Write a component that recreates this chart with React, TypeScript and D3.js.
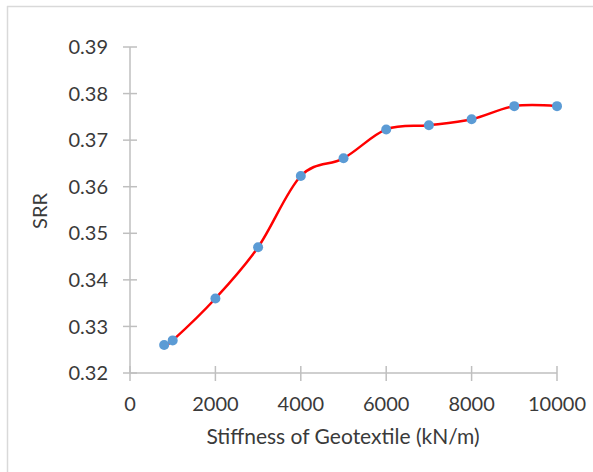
import React from "react";
import * as d3 from "d3";

const stiffness = [800, 1000, 2000, 3000, 4000, 5000, 6000, 7000, 8000, 9000, 10000];
const srr = [0.326, 0.327, 0.336, 0.347, 0.3623, 0.3661, 0.3723, 0.3732, 0.3745, 0.3773, 0.3773];
const xTicks = [0, 2000, 4000, 6000, 8000, 10000];
const yTicks = [0.32, 0.33, 0.34, 0.35, 0.36, 0.37, 0.38, 0.39];

const W = 593;
const H = 472;
const FONT = "Lato, 'Open Sans', sans-serif";

export default function App() {
  const x = d3.scaleLinear().domain([0, 10000]).range([130, 557]);
  const y = d3.scaleLinear().domain([0.32, 0.39]).range([373, 47]);
  const pts: [number, number][] = stiffness.map((s, i) => [x(s), y(srr[i])]);
  const line = d3.line().curve(d3.curveCatmullRom.alpha(0))(pts) || "";
  const axisColor = "#bfbfbf";
  const textColor = "#3a3a3a";
  return (
    <svg width={W} height={H} style={{ position: "absolute", left: 0, top: 0, background: "#fff" }}>
      <rect x={0} y={0} width={W} height={H} fill="#fff" />
      <line x1={7} y1={6.5} x2={W} y2={6.5} stroke="#d9d9d9" strokeWidth={1.5} />
      <line x1={7.5} y1={6} x2={7.5} y2={H} stroke="#d9d9d9" strokeWidth={1.5} />
      {/* y axis */}
      <line x1={x(0)} y1={y(0.39)} x2={x(0)} y2={y(0.32)} stroke={axisColor} strokeWidth={1.5} />
      {yTicks.map((t) => (
        <g key={"y" + t}>
          <line x1={x(0) - 7} x2={x(0) + 7} y1={y(t)} y2={y(t)} stroke={axisColor} strokeWidth={1.5} />
          <text x={108} y={y(t)} dy="0.36em" textAnchor="end" fontFamily={FONT} fontSize={20} fill={textColor}>
            {t.toFixed(2)}
          </text>
        </g>
      ))}
      {/* x axis */}
      <line x1={x(0)} y1={y(0.32)} x2={x(10000)} y2={y(0.32)} stroke={axisColor} strokeWidth={1.5} />
      {xTicks.map((t) => (
        <g key={"x" + t}>
          <line x1={x(t)} x2={x(t)} y1={y(0.32) - 7} y2={y(0.32) + 8} stroke={axisColor} strokeWidth={1.5} />
          <text x={x(t)} y={411} textAnchor="middle" fontFamily={FONT} fontSize={20} fill={textColor}>
            {t}
          </text>
        </g>
      ))}
      <text x={343} y={444} textAnchor="middle" fontFamily={FONT} fontSize={21} fill={textColor}>
        Stiffness of Geotextile (kN/m)
      </text>
      <text transform={`translate(47,211) rotate(-90)`} textAnchor="middle" fontFamily={FONT} fontSize={20} fill={textColor}>
        SRR
      </text>
      <path d={line} fill="none" stroke="#ff0000" strokeWidth={2.5} />
      {pts.map((p, i) => (
        <circle key={i} cx={p[0]} cy={p[1]} r={5} fill="#5b9bd5" />
      ))}
    </svg>
  );
}
